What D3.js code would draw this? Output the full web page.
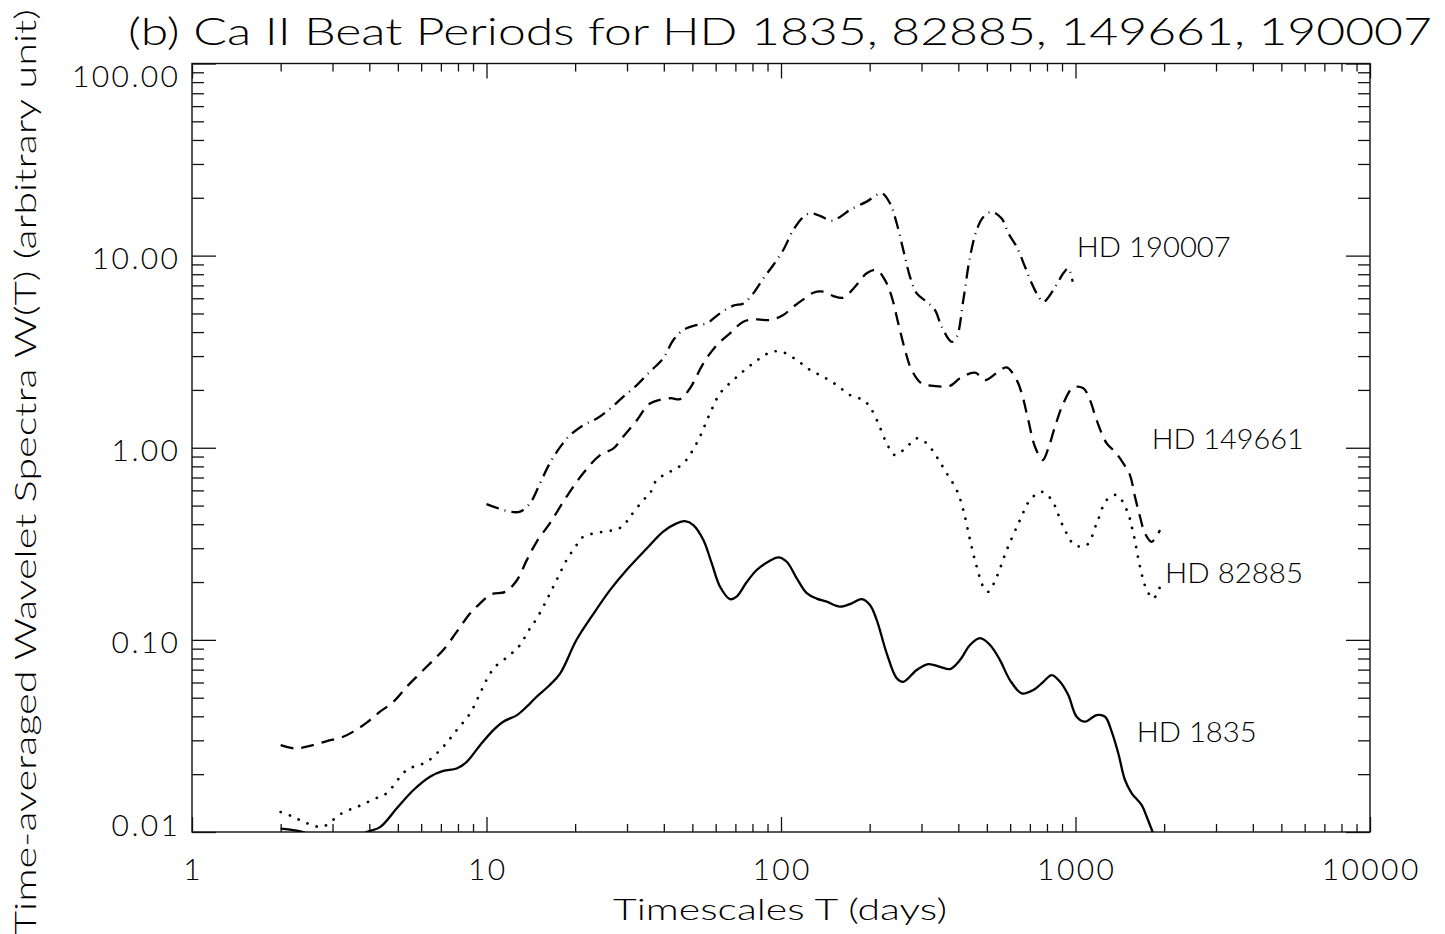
<!DOCTYPE html>
<html><head><meta charset="utf-8">
<script src="https://cdn.jsdelivr.net/npm/d3@7"></script>
<style>
html,body{margin:0;padding:0;background:#fff;}
svg{display:block;}
text{font-family:Lato,"DejaVu Sans",sans-serif;font-weight:300;fill:#000;}
</style>
</head><body>
<svg id="c" width="1445" height="934"></svg>
<script>
// ---------------- data ----------------
const titleText = "(b) Ca II Beat Periods for HD 1835, 82885, 149661, 190007";
const xTitle = "Timescales T (days)";
const yTitle = "Time-averaged Wavelet Spectra W(T) (arbitrary unit)";
const xTickValues = [1, 10, 100, 1000, 10000];
const xTickLabels = ["1", "10", "100", "1000", "10000"];
const yTickValues = [0.01, 0.1, 1, 10, 100];
const yTickLabels = ["0.01", "0.10", "1.00", "10.00", "100.00"];
const seriesNames = ["HD 1835", "HD 82885", "HD 149661", "HD 190007"];

// [T (days), W(T)]
const hd1835 = [
[2.0,0.0104],[2.42,0.0099],[2.9,0.0084],[3.4,0.0086],[3.87,0.0099],[4.35,0.0106],[4.96,0.0133],[5.64,0.0165],
[6.43,0.0194],[7.13,0.0208],[7.92,0.0214],[8.57,0.0232],[9.51,0.0283],[10.55,0.0339],[11.4,0.0375],[12.7,0.0406],
[13.7,0.0449],[14.8,0.0506],[16.4,0.0582],[17.8,0.0670],[20.2,0.0998],[23.1,0.137],[26.3,0.182],[29.9,0.231],
[35.0,0.299],[39.8,0.366],[44.2,0.404],[47.2,0.415],[50.4,0.396],[54.5,0.331],[58.2,0.250],[62.1,0.189],
[67.1,0.163],[70.7,0.168],[76.5,0.200],[82.7,0.231],[90.5,0.255],[97.9,0.269],[104.6,0.255],[113.1,0.209],
[122.3,0.175],[132.2,0.164],[143.0,0.158],[158.6,0.149],[173.9,0.155],[187.9,0.163],[200.5,0.152],[211.3,0.127],
[228.5,0.0851],[247.2,0.0631],[260.2,0.0605],[289,0.0697],[316.4,0.0748],[346.7,0.0724],[374.9,0.0705],[405.3,0.0785],
[438.4,0.0940],[474,0.102],[512.6,0.094],[554,0.0785],[599,0.0618],[656.8,0.0527],[719,0.0548],[777.5,0.0605],
[830.4,0.0656],[886,0.0605],[945,0.0516],[1009,0.0398],[1077,0.0375],[1180,0.0406],[1260,0.0398],[1327,0.0333],
[1397,0.0257],[1473,0.0186],[1552,0.0159],[1678,0.0138],[1745,0.0120],[1828,0.0100],[1900,0.0087]
];
const hd82885 = [
[2.0,0.0127],[2.18,0.0121],[2.36,0.0114],[2.55,0.0109],[2.76,0.0106],[2.96,0.0113],[3.14,0.0122],[3.40,0.0130],
[3.67,0.0136],[3.94,0.0143],[4.26,0.0151],[4.58,0.0159],[5.36,0.0210],[6.27,0.0232],[7.13,0.0278],[7.92,0.0339],
[8.79,0.0414],[9.51,0.0527],[10.14,0.0643],[10.7,0.0724],[12.0,0.0834],[13.0,0.094],[13.9,0.112],[14.8,0.129],
[16.0,0.161],[17.3,0.205],[18.7,0.260],[20.2,0.311],[21.3,0.344],[24.3,0.363],[27.0,0.373],[29.0,0.390],
[30.7,0.437],[34.1,0.535],[35.9,0.579],[37.8,0.679],[42.0,0.750],[46.6,0.830],[51.7,1.054],[57.4,1.51],
[62.1,1.92],[68.9,2.25],[76.5,2.59],[84.9,2.92],[93.0,3.16],[101.8,3.14],[113.1,2.86],[125.5,2.54],
[139.2,2.34],[154.6,2.12],[171.5,1.88],[190.4,1.77],[200.5,1.63],[214,1.34],[228.5,1.054],[243.8,0.916],
[267.3,1.01],[289,1.12],[312.5,1.054],[337.9,0.897],[365.3,0.736],[395.1,0.602],[415.9,0.474],[438.4,0.331],
[461.9,0.240],[486.4,0.189],[505.8,0.178],[540,0.213],[584,0.293],[648,0.421],[701,0.535],[768,0.590],
[830,0.535],[909,0.388],[996,0.311],[1091,0.311],[1180,0.404],[1276,0.535],[1380,0.567],[1493,0.474],
[1572,0.358],[1656,0.240],[1745,0.182],[1837,0.164],[1936,0.189]
];
const hd149661 = [
[2.0,0.0283],[2.24,0.0272],[2.52,0.0281],[2.87,0.0297],[3.26,0.0313],[3.53,0.0333],[3.92,0.0371],[4.35,0.0423],
[4.83,0.0476],[5.36,0.0570],[5.95,0.0670],[6.60,0.0785],[7.13,0.0885],[7.92,0.110],[8.79,0.137],[9.51,0.155],
[10.4,0.173],[11.6,0.178],[12.7,0.205],[13.7,0.260],[14.8,0.324],[16.4,0.404],[18.7,0.556],[21.3,0.736],
[24.3,0.916],[27.0,0.993],[29.1,1.14],[32.4,1.39],[35.9,1.70],[42.0,1.81],[45.4,1.79],[49.1,2.04],
[54.5,2.75],[60.5,3.42],[67.1,3.94],[74.5,4.53],[82.7,4.66],[91.8,4.62],[101.8,4.91],[110.1,5.42],
[119.1,5.92],[128.8,6.41],[139.2,6.49],[150.5,6.16],[162.7,6.04],[178.4,6.89],[195.4,8.09],[211.3,8.41],
[225.5,7.46],[237.6,6.11],[250.2,4.44],[263.7,3.23],[277.8,2.54],[300.5,2.16],[329,2.10],[374.9,2.10],
[405.3,2.30],[455.7,2.46],[492.8,2.25],[546.9,2.49],[584,2.62],[631.5,2.25],[656.8,1.92],[691.5,1.39],
[728.8,1.01],[773.7,0.863],[808.4,0.993],[852,1.29],[909,1.70],[983,2.06],[1063,2.04],[1120,1.77],
[1180,1.39],[1276,1.054],[1362,0.953],[1453,0.830],[1531,0.721],[1592,0.556],[1656,0.437],[1722,0.358],
[1815,0.324],[1936,0.373]
];
const hd190007 = [
[10.0,0.509],[12.0,0.465],[13.0,0.465],[14.05,0.514],[15.2,0.653],[16.4,0.830],[17.8,1.01],[19.2,1.16],
[21.3,1.31],[23.7,1.42],[26.3,1.60],[29.1,1.84],[32.4,2.12],[35.9,2.49],[39.8,2.92],[43.1,3.64],
[46.6,4.10],[51.7,4.35],[55.9,4.44],[62.1,5.01],[68.9,5.49],[74.5,5.64],[80.5,6.36],[87.1,7.62],
[94.2,8.94],[101.8,10.7],[110.1,13.6],[119.1,15.9],[125.5,16.6],[135.6,16.1],[148.6,15.2],[158.6,15.9],
[171.5,17.3],[195.4,19.1],[219.8,21.1],[234.5,18.7],[247.2,14.7],[260.2,10.7],[274.2,7.76],[289,6.36],
[312.5,5.75],[333.4,5.21],[351.3,4.26],[379.9,3.56],[395.1,3.78],[415.9,5.87],[438.4,9.87],[461.9,13.6],
[486.4,15.9],[519.4,16.9],[561.6,15.6],[591.3,13.1],[631.5,11.1],[673.8,8.75],[710,7.18],[738.4,6.36],
[777.5,5.75],[840.8,6.62],[909,8.09],[945,8.59],[978,7.31]
];
// label anchors in data units [T, W] (text start, baseline)
const labelAnchors = [[1614,0.0295],[2014,0.197],[1815,0.984],[1010,9.87]];

// ---------------- drawing ----------------
const svg = d3.select("#c");
const m = {l:192, r:1370, t:63.5, b:832};
const x = d3.scaleLog().domain([1, 10000]).range([m.l, m.r]);
const y = d3.scaleLog().domain([0.01, 100]).range([m.b, m.t]);

function minorTicks(decades){
  const out = [];
  decades.forEach(d => { for (let k = 2; k < 10; k++) out.push(+(k*d).toPrecision(3)); });
  return out;
}
const xMinor = minorTicks([1,10,100,1000]);
const yMinor = minorTicks([0.01,0.1,1,10]);

const axG = svg.append("g").attr("class","axes");
function addAxis(axis, tr, vals, size){
  axG.append("g").attr("transform", tr)
    .call(axis.tickValues(vals).tickFormat("").tickSize(size).tickSizeOuter(0))
    .call(g => g.select(".domain").remove())
    .call(g => g.selectAll("line").attr("stroke","#111").attr("stroke-width",1.3));
}
addAxis(d3.axisBottom(x), `translate(0,${m.b})`, xTickValues, -15);
addAxis(d3.axisBottom(x), `translate(0,${m.b})`, xMinor, -8);
addAxis(d3.axisTop(x), `translate(0,${m.t})`, xTickValues, -15);
addAxis(d3.axisTop(x), `translate(0,${m.t})`, xMinor, -8);
addAxis(d3.axisLeft(y), `translate(${m.l},0)`, yTickValues, -24);
addAxis(d3.axisLeft(y), `translate(${m.l},0)`, yMinor, -12);
addAxis(d3.axisRight(y), `translate(${m.r},0)`, yTickValues, -24);
addAxis(d3.axisRight(y), `translate(${m.r},0)`, yMinor, -12);

axG.append("rect").attr("x", m.l).attr("y", m.t).attr("width", m.r - m.l).attr("height", m.b - m.t)
  .attr("fill","none").attr("stroke","#111").attr("stroke-width",1.4);

// tick labels
svg.append("g").selectAll("text").data(xTickValues).join("text")
  .attr("x", d => x(d) + 1.2).attr("y", 880)
  .attr("text-anchor","middle").style("font-size","30px").style("letter-spacing","2.4px")
  .text((d,i) => xTickLabels[i]);

svg.append("g").selectAll("text").data(yTickValues).join("text")
  .attr("x", 178 + 2.4)
  .attr("y", (d,i) => y(d) + (i === 0 ? 4 : (i === yTickValues.length - 1 ? 23 : 13)))
  .attr("text-anchor","end").style("font-size","30px").style("letter-spacing","2.4px")
  .text((d,i) => yTickLabels[i]);

// titles
svg.append("text").attr("x",128).attr("y",45).style("font-size","37px")
  .attr("textLength",1304).attr("lengthAdjust","spacingAndGlyphs").text(titleText);
svg.append("text").attr("x",613).attr("y",920).style("font-size","30px")
  .attr("textLength",334).attr("lengthAdjust","spacingAndGlyphs").text(xTitle);
svg.append("text").attr("transform","translate(36,935) rotate(-90)").style("font-size","30px")
  .attr("textLength",926).attr("lengthAdjust","spacingAndGlyphs").text(yTitle);

// curves
svg.append("clipPath").attr("id","plotclip").append("rect")
  .attr("x", m.l).attr("y", m.t).attr("width", m.r - m.l).attr("height", m.b - m.t);

const line = d3.line().x(d => x(d[0])).y(d => y(d[1])).curve(d3.curveCatmullRom.alpha(0.5));
const series = [hd1835, hd82885, hd149661, hd190007];
const dashes = [null, "0.1,9.6", "13,8", "13,6,1,6"];
const caps = ["butt","round","butt","butt"];
const widths = [2.3, 2.7, 2.3, 2.3];

svg.append("g").attr("clip-path","url(#plotclip)")
  .selectAll("path").data(series).join("path")
  .attr("d", line).attr("fill","none").attr("stroke","#000")
  .attr("stroke-width",(d,i)=>widths[i])
  .attr("stroke-dasharray",(d,i)=>dashes[i])
  .attr("stroke-linecap",(d,i)=>caps[i])
  .attr("stroke-linejoin","round");

// series labels
const labelLens = [120, 138, 152, 154];
svg.append("g").selectAll("text").data(seriesNames).join("text")
  .attr("x",(d,i)=>x(labelAnchors[i][0])).attr("y",(d,i)=>y(labelAnchors[i][1]))
  .style("font-size","27px").attr("textLength",(d,i)=>labelLens[i]).attr("lengthAdjust","spacingAndGlyphs")
  .text(d=>d);
</script>
</body></html>
